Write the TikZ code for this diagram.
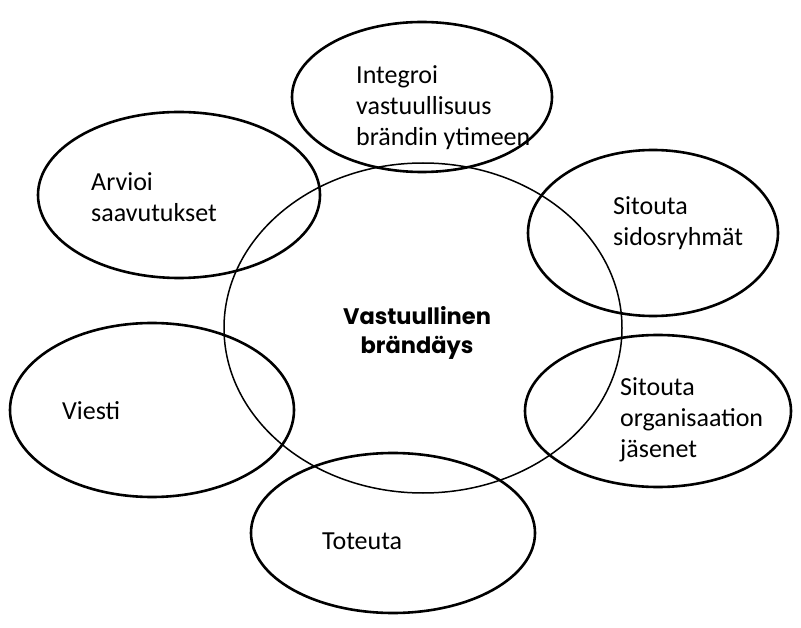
\documentclass[tikz,border=0pt]{standalone}
\usepackage{fontspec}
\setmainfont{Carlito}
\newfontfamily\brandfont{Poppins}
\usetikzlibrary{shapes.geometric}
\tikzset{
  petal/.style={draw=black, line width=2.6pt, ellipse, inner sep=0pt},
  hub/.style={draw=black, line width=1.5pt, ellipse, inner sep=0pt},
  lbl/.style={inner sep=0pt, anchor=base west, align=left,
    font=\fontsize{26pt}{31pt}\selectfont},
  hubtxt/.style={inner sep=0pt, anchor=base, align=center,
    font=\brandfont\bfseries\fontsize{22.5pt}{29pt}\selectfont}
}
\begin{document}
\begin{tikzpicture}[x=1pt,y=-1pt]
\useasboundingbox (0,0) rectangle (801,628);
\node[hub, minimum width=398pt, minimum height=330pt] (hubc) at (423,328) {};
\node[petal, minimum width=260pt, minimum height=150pt] (pint) at (422,97) {};
\node[petal, minimum width=282pt, minimum height=166pt] (parv) at (179,195) {};
\node[petal, minimum width=250pt, minimum height=166pt] (psid) at (653,233) {};
\node[petal, minimum width=284pt, minimum height=174pt] (pvie) at (152,410) {};
\node[petal, minimum width=266pt, minimum height=152pt] (porg) at (658,411) {};
\node[petal, minimum width=284pt, minimum height=160pt] (ptot) at (393,533) {};

\node[lbl] (tint) at (356,146) {Integroi\\vastuullisuus\\brändin ytimeen};
\node[lbl] (tarv) at (91,222) {Arvioi\\saavutukset};
\node[lbl] (tsid) at (613,246) {Sitouta\\sidosryhmät};
\node[lbl] (tvie) at (62,420) {Viesti};
\node[lbl] (torg) at (620,457) {Sitouta\\organisaation\\jäsenet};
\node[lbl] (ttot) at (322,549) {Toteuta};
\node[hubtxt] (thub) at (417,354) {Vastuullinen\\brändäys};
\end{tikzpicture}
\end{document}
